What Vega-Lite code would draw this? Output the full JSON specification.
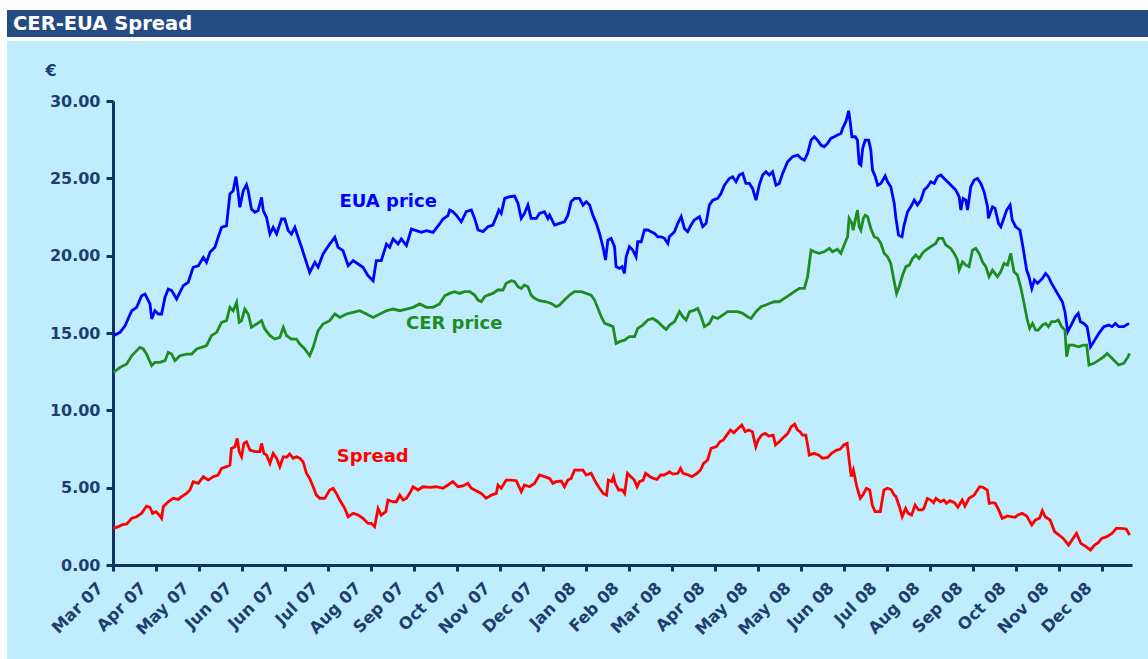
{
"$schema": "https://vega.github.io/schema/vega-lite/v6.json",
"background": "#FFFFFF",
"padding": {"left": 7, "top": 10, "right": 0, "bottom": 0},
"spacing": 4,
"config": {"view": {"stroke": null}},
"vconcat": [
{
"width": 1141, "height": 27,
"view": {"fill": "#264B82", "stroke": null},
"data": {"values": [{"t": "CER-EUA Spread"}]},
"mark": {"type": "text", "align": "left", "baseline": "middle", "font": "DejaVu Sans", "fontWeight": "bold", "fontSize": 19.5, "color": "#FFFFFF", "dx": 6},
"encoding": {
"text": {"field": "t"},
"x": {"datum": 0, "type": "quantitative", "scale": {"domain": [0, 1]}, "axis": null},
"y": {"datum": 0.5, "type": "quantitative", "scale": {"domain": [0, 1]}, "axis": null}
}
},
{
"width": 1141, "height": 618,
"view": {"fill": "#BFEDFD", "stroke": null},
"encoding": {
"x": {"field": "d", "type": "quantitative",
"scale": {"domain": [0, 474], "range": [106, 1125], "nice": false, "zero": false},
"axis": {"values": [0,20,40,60,80,100,120,140,160,180,200,220,240,260,280,300,320,340,360,380,400,420,440,460],
"labelExpr": "['Mar 07','Apr 07','May 07','Jun 07','Jun 07','Jul 07','Aug 07','Sep 07','Oct 07','Nov 07','Dec 07','Jan 08','Feb 08','Mar 08','Apr 08','May 08','May 08','Jun 08','Jul 08','Aug 08','Sep 08','Oct 08','Nov 08','Dec 08'][round(datum.value/20)]",
"title": null, "grid": false, "offset": -94,
"labelAngle": -45, "labelAlign": "right", "labelBaseline": "middle", "labelOffset": -13, "labelPadding": 14,
"labelOverlap": false, "labelFlush": false,
"labelFont": "DejaVu Sans", "labelFontWeight": "bold", "labelFontSize": 16.5, "labelColor": "#1F3D6D",
"domainColor": "#12335F", "domainWidth": 3, "tickColor": "#12335F", "tickWidth": 3, "tickSize": 6}},
"y": {"field": "v", "type": "quantitative",
"scale": {"domain": [0, 30], "range": [524, 60], "nice": false, "zero": false},
"axis": {"values": [0,5,10,15,20,25,30], "format": ".2f", "grid": false, "offset": -106,
"title": "€", "titleAngle": 0, "titleX": -68, "titleY": 29, "titleAlign": "left", "titleBaseline": "middle",
"titleFont": "DejaVu Sans", "titleFontWeight": "bold", "titleFontSize": 16, "titleColor": "#1F3D6D",
"labelFont": "DejaVu Sans", "labelFontWeight": "bold", "labelFontSize": 16, "labelColor": "#1F3D6D", "labelPadding": 6,
"domainColor": "#12335F", "domainWidth": 3, "tickColor": "#12335F", "tickWidth": 3, "tickSize": 7}}
},
"layer": [
{
"data": {"values": [
{"d":0.2,"v":14.83},{"d":3.3,"v":15.04},{"d":5.6,"v":15.47},{"d":8.7,"v":16.44},{"d":11.0,"v":16.66},{"d":13.3,"v":17.41},{"d":14.9,"v":17.52},{"d":17.2,"v":16.88},{"d":18.0,"v":15.91},{"d":19.5,"v":16.44},{"d":21.1,"v":16.23},{"d":22.6,"v":16.23},{"d":24.2,"v":17.31},{"d":25.7,"v":17.84},{"d":27.3,"v":17.74},{"d":29.6,"v":17.2},{"d":31.1,"v":17.63},{"d":32.7,"v":18.06},{"d":35.0,"v":18.28},{"d":37.3,"v":19.25},{"d":39.7,"v":19.35},{"d":42.0,"v":19.89},{"d":43.5,"v":19.57},{"d":45.1,"v":20.22},{"d":47.4,"v":20.54},{"d":48.9,"v":21.19},{"d":50.5,"v":21.83},{"d":52.8,"v":21.94},{"d":54.4,"v":23.99},{"d":55.9,"v":24.2},{"d":57.2,"v":25.11},{"d":58.2,"v":24.09},{"d":59.0,"v":23.13},{"d":60.6,"v":24.2},{"d":62.1,"v":24.59},{"d":62.9,"v":24.2},{"d":64.4,"v":23.02},{"d":66.0,"v":22.8},{"d":67.5,"v":22.91},{"d":69.1,"v":23.77},{"d":69.9,"v":22.91},{"d":71.4,"v":22.48},{"d":73.0,"v":21.4},{"d":74.5,"v":21.83},{"d":76.1,"v":21.4},{"d":78.4,"v":22.37},{"d":79.9,"v":22.37},{"d":81.5,"v":21.62},{"d":83.0,"v":21.4},{"d":84.6,"v":21.83},{"d":86.1,"v":21.19},{"d":87.7,"v":20.54},{"d":89.2,"v":19.89},{"d":91.5,"v":18.92},{"d":93.9,"v":19.57},{"d":95.4,"v":19.25},{"d":97.7,"v":20.11},{"d":100.8,"v":20.75},{"d":103.2,"v":21.19},{"d":104.7,"v":20.54},{"d":107.0,"v":20.32},{"d":109.4,"v":19.35},{"d":111.7,"v":19.68},{"d":114.0,"v":19.46},{"d":116.3,"v":19.25},{"d":118.6,"v":18.71},{"d":121.0,"v":18.38},{"d":122.5,"v":19.68},{"d":124.8,"v":19.68},{"d":127.2,"v":20.75},{"d":128.7,"v":20.54},{"d":130.3,"v":21.08},{"d":132.6,"v":20.75},{"d":134.1,"v":21.08},{"d":136.5,"v":20.65},{"d":138.8,"v":21.72},{"d":141.1,"v":21.62},{"d":143.4,"v":21.51},{"d":145.8,"v":21.62},{"d":148.9,"v":21.51},{"d":151.9,"v":22.05},{"d":153.5,"v":22.37},{"d":155.8,"v":22.59},
{"d":156.6,"v":22.95},{"d":158.1,"v":22.84},{"d":159.7,"v":22.62},{"d":162.0,"v":22.19},{"d":164.3,"v":22.84},{"d":166.7,"v":22.95},{"d":168.2,"v":22.41},{"d":169.8,"v":21.66},{"d":172.1,"v":21.55},{"d":174.4,"v":21.87},{"d":176.7,"v":21.98},{"d":178.3,"v":22.52},{"d":179.5,"v":22.95},{"d":180.6,"v":22.73},{"d":182.2,"v":23.7},{"d":184.5,"v":23.81},{"d":186.8,"v":23.85},{"d":188.4,"v":23.38},{"d":189.9,"v":22.41},{"d":191.4,"v":22.73},{"d":193.0,"v":23.27},{"d":194.5,"v":22.41},{"d":196.9,"v":22.41},{"d":198.4,"v":22.73},{"d":200.7,"v":22.84},{"d":202.3,"v":22.41},{"d":203.1,"v":22.62},{"d":205.4,"v":21.98},{"d":207.7,"v":22.09},{"d":210.0,"v":22.19},{"d":211.6,"v":22.62},{"d":213.1,"v":23.49},{"d":214.7,"v":23.7},{"d":217.0,"v":23.7},{"d":218.6,"v":23.27},{"d":220.1,"v":23.49},{"d":221.7,"v":23.27},{"d":223.2,"v":22.62},{"d":224.8,"v":22.09},{"d":226.3,"v":21.44},{"d":227.9,"v":20.58},{"d":229.1,"v":19.72},{"d":230.2,"v":21.01},{"d":231.7,"v":21.12},{"d":233.3,"v":20.58},{"d":234.0,"v":19.29},{"d":235.6,"v":19.18},{"d":236.8,"v":19.29},{"d":237.9,"v":18.85},{"d":238.7,"v":19.93},{"d":240.2,"v":20.58},{"d":241.8,"v":20.36},{"d":243.3,"v":19.93},{"d":244.1,"v":20.9},{"d":245.7,"v":20.9},{"d":247.2,"v":21.66},{"d":248.8,"v":21.66},{"d":250.3,"v":21.55},{"d":251.9,"v":21.44},{"d":253.4,"v":21.22},{"d":255.0,"v":21.22},{"d":256.5,"v":21.12},{"d":258.1,"v":20.79},{"d":258.8,"v":21.22},{"d":261.2,"v":21.55},{"d":262.7,"v":22.09},{"d":264.3,"v":22.52},{"d":265.8,"v":21.76},{"d":267.3,"v":21.55},{"d":268.9,"v":21.98},{"d":270.4,"v":22.3},{"d":272.8,"v":22.52},{"d":274.3,"v":21.87},{"d":275.9,"v":22.09},{"d":277.4,"v":23.27},{"d":279.0,"v":23.59},{"d":281.3,"v":23.7},{"d":282.8,"v":24.02},{"d":284.4,"v":24.56},{"d":286.7,"v":24.99},{"d":288.2,"v":25.1},{"d":289.8,"v":24.78},{"d":291.3,"v":25.21},{"d":292.9,"v":25.32},{"d":294.4,"v":24.67},{"d":296.0,"v":24.67},{"d":297.5,"v":24.35},{"d":299.1,"v":23.59},{"d":300.6,"v":24.56},{"d":302.2,"v":25.21},{"d":303.7,"v":25.43},{"d":305.3,"v":25.21},{"d":306.8,"v":25.43},{"d":308.4,"v":24.56},
{"d":309.9,"v":24.67},{"d":311.5,"v":25.32},{"d":313.8,"v":26.07},{"d":316.1,"v":26.4},{"d":318.5,"v":26.5},{"d":320.0,"v":26.29},{"d":321.6,"v":26.18},{"d":323.1,"v":26.61},{"d":324.7,"v":27.47},{"d":326.2,"v":27.69},{"d":327.7,"v":27.47},{"d":329.3,"v":27.15},{"d":330.8,"v":27.04},{"d":332.4,"v":27.26},{"d":333.9,"v":27.58},{"d":335.5,"v":27.69},{"d":337.0,"v":27.8},{"d":338.6,"v":27.9},{"d":339.4,"v":28.23},{"d":340.9,"v":28.66},{"d":342.2,"v":29.37},{"d":342.9,"v":28.66},{"d":343.7,"v":27.69},{"d":345.3,"v":27.69},{"d":346.3,"v":27.47},{"d":347.1,"v":25.96},{"d":347.9,"v":25.86},{"d":348.7,"v":26.93},{"d":349.9,"v":27.47},{"d":351.5,"v":27.47},{"d":352.5,"v":26.83},{"d":353.3,"v":25.53},{"d":354.6,"v":25.1},{"d":355.7,"v":24.56},{"d":357.2,"v":24.67},{"d":359.2,"v":25.15},{"d":360.3,"v":24.78},{"d":361.8,"v":24.46},{"d":363.4,"v":23.38},{"d":364.2,"v":22.41},{"d":365.4,"v":21.33},{"d":367.0,"v":21.22},{"d":368.0,"v":21.98},{"d":369.6,"v":22.84},{"d":371.1,"v":23.16},{"d":372.7,"v":23.59},{"d":374.2,"v":23.27},{"d":375.8,"v":23.59},{"d":377.3,"v":24.24},{"d":378.9,"v":24.46},{"d":380.4,"v":24.78},{"d":382.0,"v":24.67},{"d":383.5,"v":25.1},{"d":385.1,"v":25.21},{"d":386.6,"v":24.99},{"d":388.2,"v":24.78},{"d":390.5,"v":24.46},{"d":392.0,"v":24.24},{"d":393.6,"v":23.81},{"d":394.4,"v":22.95},{"d":395.4,"v":23.7},{"d":396.7,"v":23.59},{"d":397.5,"v":22.95},{"d":399.0,"v":24.46},{"d":400.6,"v":24.89},{"d":402.1,"v":24.99},{"d":403.7,"v":24.67},{"d":405.2,"v":24.13},{"d":406.8,"v":23.16},{"d":407.2,"v":22.41},{"d":409.1,"v":23.16},{"d":410.3,"v":23.06},{"d":411.9,"v":22.09},{"d":413.0,"v":21.87},{"d":414.1,"v":22.3},{"d":415.7,"v":22.95},{"d":417.3,"v":23.27},{"d":418.3,"v":22.3},{"d":419.9,"v":21.87},{"d":421.9,"v":21.65},{"d":423.5,"v":20.36},{"d":425.0,"v":19.07},{"d":426.1,"v":18.64},{"d":427.4,"v":17.88},{"d":428.6,"v":18.42},{"d":430.1,"v":18.21},{"d":432.3,"v":18.53},{"d":433.8,"v":18.85},{"d":435.1,"v":18.64},{"d":436.6,"v":18.21},{"d":439.3,"v":17.56},{"d":441.6,"v":17.02},{"d":442.8,"v":16.38},{"d":444.1,"v":15.08},{"d":445.7,"v":15.51},{"d":447.6,"v":16.05},{"d":449.0,"v":16.27},{"d":450.0,"v":15.73},{"d":451.6,"v":15.62},{"d":453.1,"v":15.41},{"d":454.7,"v":14.11},{"d":456.2,"v":14.44},{"d":458.6,"v":14.98},{"d":460.9,"v":15.41},{"d":463.2,"v":15.51},{"d":464.7,"v":15.41},{"d":466.3,"v":15.62},{"d":467.8,"v":15.41},{"d":470.1,"v":15.41},{"d":472.6,"v":15.62}
]},
"mark": {"type": "line", "color": "#0000FF", "strokeWidth": 2.8}
},
{
"data": {"values": [
{"d":0.2,"v":12.46},{"d":3.3,"v":12.78},{"d":6.4,"v":13.0},{"d":8.7,"v":13.53},{"d":11.0,"v":13.86},{"d":12.5,"v":14.07},{"d":14.1,"v":13.97},{"d":15.6,"v":13.64},{"d":18.0,"v":12.89},{"d":19.5,"v":13.1},{"d":21.8,"v":13.1},{"d":24.2,"v":13.21},{"d":25.7,"v":13.75},{"d":27.3,"v":13.64},{"d":28.8,"v":13.21},{"d":31.1,"v":13.53},{"d":34.2,"v":13.64},{"d":36.6,"v":13.64},{"d":38.9,"v":13.97},{"d":41.2,"v":14.07},{"d":43.5,"v":14.18},{"d":45.8,"v":14.83},{"d":48.2,"v":15.04},{"d":50.5,"v":15.69},{"d":52.8,"v":15.8},{"d":54.4,"v":16.66},{"d":55.9,"v":16.44},{"d":57.5,"v":16.98},{"d":58.7,"v":15.69},{"d":59.8,"v":15.8},{"d":61.3,"v":16.55},{"d":62.9,"v":16.23},{"d":64.4,"v":15.37},{"d":66.8,"v":15.58},{"d":69.1,"v":15.8},{"d":70.6,"v":15.26},{"d":73.0,"v":14.83},{"d":75.3,"v":14.61},{"d":77.6,"v":14.72},{"d":79.2,"v":15.37},{"d":80.7,"v":14.83},{"d":83.0,"v":14.61},{"d":85.3,"v":14.61},{"d":86.9,"v":14.29},{"d":89.2,"v":13.97},{"d":91.5,"v":13.53},{"d":93.1,"v":14.07},{"d":95.4,"v":15.15},{"d":97.7,"v":15.58},{"d":100.8,"v":15.8},{"d":103.2,"v":16.23},{"d":105.5,"v":16.01},{"d":108.6,"v":16.23},{"d":111.7,"v":16.34},{"d":114.8,"v":16.44},{"d":117.9,"v":16.23},{"d":121.0,"v":16.01},{"d":124.1,"v":16.23},{"d":127.2,"v":16.44},{"d":130.3,"v":16.55},{"d":133.4,"v":16.44},{"d":136.5,"v":16.55},{"d":139.6,"v":16.66},{"d":142.7,"v":16.88},{"d":145.8,"v":16.66},{"d":148.9,"v":16.66},{"d":151.9,"v":16.88},{"d":154.3,"v":17.41},
{"d":156.6,"v":17.56},{"d":158.9,"v":17.67},{"d":161.2,"v":17.56},{"d":163.5,"v":17.67},{"d":165.9,"v":17.67},{"d":168.2,"v":17.45},{"d":169.8,"v":17.13},{"d":171.3,"v":17.02},{"d":172.9,"v":17.35},{"d":174.4,"v":17.45},{"d":176.7,"v":17.56},{"d":179.0,"v":17.78},{"d":181.4,"v":17.78},{"d":182.9,"v":18.21},{"d":185.3,"v":18.38},{"d":186.8,"v":18.32},{"d":188.4,"v":17.99},{"d":189.9,"v":17.88},{"d":191.4,"v":18.1},{"d":193.0,"v":17.99},{"d":194.5,"v":17.45},{"d":196.1,"v":17.24},{"d":198.4,"v":17.09},{"d":201.5,"v":17.02},{"d":203.8,"v":16.91},{"d":206.2,"v":16.7},{"d":207.7,"v":16.81},{"d":210.0,"v":17.13},{"d":212.4,"v":17.45},{"d":214.7,"v":17.67},{"d":217.8,"v":17.67},{"d":220.1,"v":17.56},{"d":222.4,"v":17.45},{"d":224.0,"v":17.13},{"d":225.6,"v":16.59},{"d":227.1,"v":16.05},{"d":228.7,"v":15.62},{"d":231.0,"v":15.51},{"d":232.6,"v":15.41},{"d":234.0,"v":14.33},{"d":235.6,"v":14.44},{"d":237.9,"v":14.54},{"d":240.2,"v":14.76},{"d":242.6,"v":14.76},{"d":244.1,"v":15.3},{"d":246.4,"v":15.51},{"d":248.8,"v":15.84},{"d":251.1,"v":15.94},{"d":253.4,"v":15.73},{"d":255.8,"v":15.41},{"d":257.3,"v":15.23},{"d":258.9,"v":15.51},{"d":261.2,"v":15.73},{"d":263.5,"v":16.38},{"d":265.1,"v":16.05},{"d":266.6,"v":15.84},{"d":268.2,"v":16.38},{"d":270.5,"v":16.48},{"d":272.0,"v":16.59},{"d":273.6,"v":16.05},{"d":275.1,"v":15.41},{"d":277.4,"v":15.62},{"d":279.0,"v":16.05},{"d":281.3,"v":15.94},{"d":283.6,"v":16.16},{"d":285.9,"v":16.38},{"d":288.3,"v":16.38},{"d":290.6,"v":16.38},{"d":292.9,"v":16.27},{"d":295.2,"v":16.05},{"d":296.8,"v":15.94},{"d":299.1,"v":16.38},{"d":301.4,"v":16.7},{"d":303.7,"v":16.81},{"d":305.3,"v":16.91},{"d":307.6,"v":17.02},
{"d":309.9,"v":17.02},{"d":312.3,"v":17.24},{"d":314.6,"v":17.45},{"d":316.9,"v":17.67},{"d":319.2,"v":17.88},{"d":321.6,"v":17.88},{"d":323.1,"v":18.64},{"d":324.7,"v":20.36},{"d":326.2,"v":20.25},{"d":328.5,"v":20.15},{"d":330.8,"v":20.25},{"d":333.2,"v":20.47},{"d":334.7,"v":20.25},{"d":337.0,"v":20.41},{"d":338.6,"v":20.15},{"d":340.1,"v":20.69},{"d":341.7,"v":21.22},{"d":342.4,"v":22.41},{"d":343.7,"v":22.09},{"d":344.3,"v":21.65},{"d":345.6,"v":22.52},{"d":346.3,"v":22.95},{"d":347.1,"v":21.87},{"d":347.9,"v":21.65},{"d":349.0,"v":22.41},{"d":349.9,"v":22.62},{"d":351.0,"v":22.52},{"d":352.5,"v":21.76},{"d":354.1,"v":21.22},{"d":355.7,"v":21.12},{"d":357.2,"v":20.79},{"d":358.7,"v":20.15},{"d":360.3,"v":19.93},{"d":361.8,"v":19.5},{"d":363.4,"v":18.32},{"d":364.5,"v":17.56},{"d":365.7,"v":17.99},{"d":367.3,"v":18.75},{"d":368.8,"v":19.29},{"d":370.4,"v":19.39},{"d":371.9,"v":19.82},{"d":373.4,"v":20.04},{"d":375.0,"v":19.82},{"d":376.5,"v":20.15},{"d":378.1,"v":20.36},{"d":380.4,"v":20.58},{"d":382.7,"v":20.79},{"d":384.0,"v":21.12},{"d":385.9,"v":21.12},{"d":387.4,"v":20.69},{"d":389.7,"v":20.47},{"d":391.3,"v":20.15},{"d":392.8,"v":19.72},{"d":393.6,"v":19.07},{"d":395.2,"v":19.61},{"d":396.7,"v":19.39},{"d":398.2,"v":19.29},{"d":399.8,"v":20.36},{"d":401.3,"v":20.47},{"d":402.9,"v":20.15},{"d":404.4,"v":19.61},{"d":406.0,"v":19.29},{"d":407.5,"v":18.64},{"d":409.1,"v":19.07},{"d":411.4,"v":18.64},{"d":412.9,"v":18.96},{"d":414.5,"v":19.5},{"d":416.1,"v":19.39},{"d":417.6,"v":20.15},{"d":419.1,"v":18.96},{"d":420.7,"v":18.75},{"d":422.2,"v":17.99},{"d":423.8,"v":16.91},{"d":425.3,"v":15.84},{"d":426.4,"v":15.3},{"d":427.7,"v":15.62},{"d":429.2,"v":15.19},{"d":430.4,"v":15.19},{"d":432.3,"v":15.51},{"d":433.8,"v":15.62},{"d":435.1,"v":15.41},{"d":436.6,"v":15.73},{"d":438.2,"v":15.73},{"d":439.7,"v":15.84},{"d":441.3,"v":15.41},{"d":442.8,"v":15.19},{"d":443.6,"v":13.47},{"d":444.7,"v":14.22},{"d":446.7,"v":14.22},{"d":449.1,"v":14.11},{"d":451.4,"v":14.22},{"d":452.9,"v":14.22},{"d":454.0,"v":12.93},{"d":456.3,"v":13.04},{"d":458.6,"v":13.25},{"d":460.9,"v":13.47},{"d":462.4,"v":13.68},{"d":464.0,"v":13.47},{"d":465.5,"v":13.25},{"d":467.8,"v":12.93},{"d":470.2,"v":13.04},{"d":472.2,"v":13.47},{"d":472.8,"v":13.68}
]},
"mark": {"type": "line", "color": "#1E8C1E", "strokeWidth": 2.8}
},
{
"data": {"values": [
{"d":0.2,"v":2.37},{"d":2.5,"v":2.48},{"d":4.0,"v":2.59},{"d":6.4,"v":2.65},{"d":8.7,"v":3.02},{"d":11.0,"v":3.12},{"d":13.3,"v":3.34},{"d":15.6,"v":3.81},{"d":17.2,"v":3.73},{"d":18.4,"v":3.34},{"d":20.0,"v":3.45},{"d":21.5,"v":3.23},{"d":22.6,"v":3.02},{"d":23.4,"v":3.77},{"d":25.7,"v":4.09},{"d":28.0,"v":4.31},{"d":30.4,"v":4.24},{"d":31.9,"v":4.42},{"d":34.2,"v":4.63},{"d":35.8,"v":4.85},{"d":37.3,"v":5.39},{"d":39.7,"v":5.28},{"d":42.0,"v":5.71},{"d":44.3,"v":5.49},{"d":46.6,"v":5.71},{"d":48.9,"v":5.82},{"d":50.5,"v":6.25},{"d":52.8,"v":6.36},{"d":54.4,"v":6.46},{"d":55.1,"v":7.54},{"d":56.7,"v":7.65},{"d":57.8,"v":8.19},{"d":58.7,"v":7.33},{"d":59.8,"v":7.0},{"d":60.9,"v":7.86},{"d":62.1,"v":7.97},{"d":63.7,"v":7.43},{"d":66.0,"v":7.33},{"d":68.3,"v":7.33},{"d":69.1,"v":7.86},{"d":70.2,"v":7.22},{"d":71.4,"v":7.11},{"d":73.0,"v":6.57},{"d":74.5,"v":7.22},{"d":76.1,"v":6.9},{"d":77.6,"v":6.36},{"d":79.2,"v":7.0},{"d":80.7,"v":6.96},{"d":82.2,"v":7.18},{"d":83.8,"v":6.9},{"d":85.3,"v":7.0},{"d":86.9,"v":6.9},{"d":88.4,"v":6.68},{"d":90.0,"v":5.93},{"d":91.5,"v":5.6},{"d":93.1,"v":5.06},{"d":94.6,"v":4.52},{"d":96.2,"v":4.31},{"d":98.5,"v":4.31},{"d":100.8,"v":4.85},{"d":102.4,"v":4.96},{"d":103.9,"v":4.63},{"d":105.5,"v":4.2},{"d":107.8,"v":3.66},{"d":109.4,"v":3.12},{"d":111.7,"v":3.34},{"d":114.0,"v":3.23},{"d":116.3,"v":3.02},{"d":118.6,"v":2.69},{"d":120.2,"v":2.69},{"d":121.7,"v":2.48},{"d":123.3,"v":3.66},{"d":124.8,"v":3.23},{"d":126.9,"v":3.45},{"d":127.9,"v":4.2},{"d":130.3,"v":4.09},{"d":131.8,"v":4.09},{"d":133.4,"v":4.52},{"d":134.9,"v":4.2},{"d":136.5,"v":4.31},{"d":138.0,"v":4.63},{"d":139.6,"v":5.06},{"d":141.9,"v":4.85},{"d":144.2,"v":5.06},{"d":147.3,"v":5.02},{"d":150.4,"v":5.06},{"d":153.5,"v":4.96},{"d":155.8,"v":5.17},{"d":158.1,"v":5.39},{"d":160.5,"v":5.06},{"d":162.8,"v":5.11},{"d":165.1,"v":5.28},{"d":166.7,"v":4.96},{"d":168.2,"v":4.85},{"d":169.8,"v":4.74},{"d":171.3,"v":4.63},{"d":173.6,"v":4.31},{"d":176.0,"v":4.52},{"d":178.3,"v":4.63},{"d":179.1,"v":5.17},{"d":180.6,"v":4.96},{"d":182.9,"v":5.49},{"d":185.3,"v":5.49},{"d":187.6,"v":5.45},{"d":189.9,"v":4.74},{"d":191.4,"v":5.17},{"d":193.8,"v":5.06},{"d":196.1,"v":5.28},{"d":198.4,"v":5.82},{"d":200.7,"v":5.71},{"d":203.1,"v":5.6},{"d":204.6,"v":5.28},{"d":206.2,"v":5.39},{"d":208.5,"v":5.43},{"d":210.0,"v":5.06},{"d":211.6,"v":5.49},{"d":213.1,"v":5.6},{"d":214.7,"v":6.14},{"d":217.0,"v":6.14},{"d":218.6,"v":6.14},{"d":220.1,"v":5.82},{"d":222.4,"v":5.93},{"d":224.8,"v":5.28},
{"d":226.3,"v":4.96},{"d":228.0,"v":4.63},{"d":229.6,"v":4.52},{"d":230.4,"v":5.49},{"d":232.0,"v":5.39},{"d":232.8,"v":5.71},{"d":233.6,"v":5.28},{"d":235.2,"v":4.85},{"d":236.9,"v":4.85},{"d":238.0,"v":4.63},{"d":239.3,"v":5.93},{"d":240.9,"v":5.71},{"d":242.5,"v":5.49},{"d":243.8,"v":5.06},{"d":244.9,"v":5.39},{"d":246.6,"v":5.49},{"d":247.7,"v":5.93},{"d":249.8,"v":5.71},{"d":251.5,"v":5.6},{"d":253.1,"v":5.54},{"d":254.7,"v":5.82},{"d":256.3,"v":5.82},{"d":257.9,"v":5.93},{"d":258.8,"v":6.03},{"d":260.4,"v":5.88},{"d":262.8,"v":5.93},{"d":264.0,"v":6.25},{"d":265.2,"v":5.93},{"d":267.7,"v":5.82},{"d":269.3,"v":5.71},{"d":271.7,"v":5.93},{"d":273.3,"v":6.14},{"d":274.7,"v":6.57},{"d":276.6,"v":6.79},{"d":278.2,"v":7.54},{"d":280.7,"v":7.65},{"d":282.3,"v":7.97},{"d":283.9,"v":8.08},{"d":285.5,"v":8.4},{"d":287.2,"v":8.73},{"d":288.8,"v":8.55},{"d":290.4,"v":8.77},{"d":292.5,"v":9.05},{"d":294.1,"v":8.62},{"d":295.7,"v":8.73},{"d":297.4,"v":8.62},{"d":299.0,"v":7.65},{"d":300.1,"v":8.08},{"d":301.7,"v":8.4},{"d":303.4,"v":8.51},{"d":305.0,"v":8.34},{"d":307.1,"v":8.4},{"d":308.2,"v":7.76},{"d":309.9,"v":7.97},{"d":312.3,"v":8.3},{"d":313.9,"v":8.51},{"d":315.5,"v":8.94},{"d":317.1,"v":9.11},{"d":318.4,"v":8.73},{"d":319.6,"v":8.62},{"d":320.7,"v":8.4},{"d":322.3,"v":8.4},{"d":323.9,"v":7.11},{"d":326.0,"v":7.22},{"d":328.2,"v":7.11},{"d":330.1,"v":6.9},{"d":332.5,"v":6.96},{"d":334.2,"v":7.22},{"d":336.6,"v":7.43},{"d":338.2,"v":7.48},{"d":339.9,"v":7.76},{"d":341.5,"v":7.86},{"d":342.8,"v":6.36},{"d":343.4,"v":5.71},{"d":344.4,"v":6.14},{"d":346.0,"v":5.06},{"d":347.6,"v":4.31},{"d":348.8,"v":4.52},{"d":350.4,"v":4.96},{"d":352.0,"v":4.85},{"d":353.2,"v":3.88},{"d":354.5,"v":3.45},{"d":356.1,"v":3.45},{"d":356.9,"v":3.45},{"d":358.6,"v":4.85},{"d":360.2,"v":4.96},{"d":361.8,"v":4.89},{"d":363.4,"v":4.52},{"d":364.2,"v":4.42},{"d":365.8,"v":3.77},{"d":367.1,"v":3.12},{"d":368.7,"v":3.66},{"d":369.9,"v":3.34},{"d":371.5,"v":3.23},{"d":373.1,"v":3.88},{"d":374.7,"v":3.56},{"d":376.4,"v":3.56},{"d":377.2,"v":3.66},{"d":378.8,"v":4.31},{"d":380.4,"v":4.2},{"d":381.7,"v":4.03},{"d":382.8,"v":4.31},{"d":384.9,"v":4.09},{"d":386.5,"v":4.2},{"d":387.7,"v":3.99},{"d":389.3,"v":4.16},{"d":391.4,"v":4.03},{"d":393.0,"v":3.73},{"d":395.0,"v":4.2},{"d":396.3,"v":3.81},{"d":398.2,"v":4.31},{"d":400.6,"v":4.52},{"d":403.1,"v":5.06},{"d":404.7,"v":5.02},{"d":406.7,"v":4.85},{"d":407.6,"v":3.99},{"d":409.2,"v":4.03},{"d":410.4,"v":3.99},{"d":412.0,"v":3.56},{"d":413.6,"v":3.02},{"d":416.1,"v":3.17},{"d":417.7,"v":3.12},{"d":419.6,"v":3.08},{"d":420.9,"v":3.23},{"d":422.9,"v":3.34},{"d":425.0,"v":3.17},{"d":427.4,"v":2.59},{"d":429.1,"v":2.91},{"d":431.0,"v":3.02},{"d":432.3,"v":3.51},{"d":433.6,"v":3.12},{"d":435.9,"v":2.91},{"d":438.0,"v":2.15},{"d":440.1,"v":1.94},{"d":442.0,"v":1.72},{"d":444.5,"v":1.29},{"d":446.6,"v":1.72},{"d":448.2,"v":2.05},{"d":450.2,"v":1.4},{"d":452.6,"v":1.19},{"d":454.7,"v":0.97},{"d":456.6,"v":1.29},{"d":458.3,"v":1.44},{"d":459.9,"v":1.72},{"d":462.3,"v":1.83},{"d":464.8,"v":2.05},{"d":466.7,"v":2.37},{"d":468.8,"v":2.37},{"d":471.3,"v":2.33},{"d":472.9,"v":1.94}
]},
"mark": {"type": "line", "color": "#FF0000", "strokeWidth": 2.8}
},
{
"data": {"values": [
{"d":128.0,"v":23.5,"t":"EUA price"},
{"d":158.7,"v":15.58,"t":"CER price"},
{"d":120.8,"v":6.98,"t":"Spread"}
]},
"mark": {"type": "text", "font": "DejaVu Sans", "fontWeight": "bold", "fontSize": 18, "align": "center", "baseline": "middle"},
"encoding": {
"text": {"field": "t"},
"color": {"field": "t", "type": "nominal", "scale": {"domain": ["EUA price", "CER price", "Spread"], "range": ["#0000FF", "#1E8C1E", "#FF0000"]}, "legend": null}
}
}
]
}
]
}
